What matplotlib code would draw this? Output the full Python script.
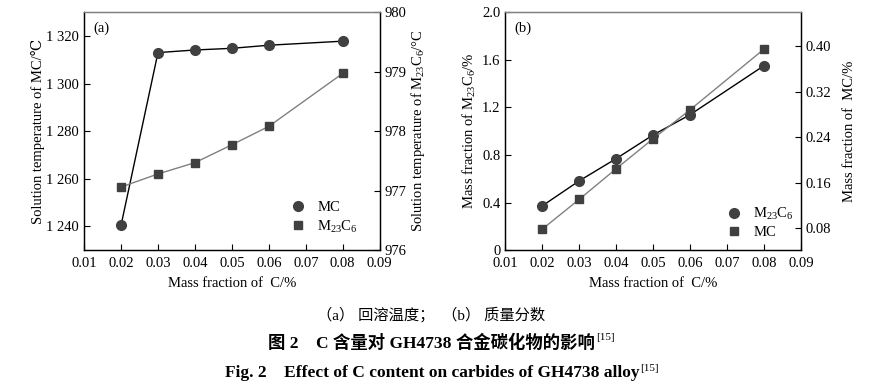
import numpy as np
import matplotlib.pyplot as plt
from matplotlib.lines import Line2D

plt.rcParams['font.family'] = ['Liberation Serif', 'DejaVu Serif']
plt.rcParams['mathtext.fontset'] = 'custom'
plt.rcParams['mathtext.rm'] = 'Liberation Serif'
plt.rcParams['mathtext.it'] = 'Liberation Serif:italic'
plt.rcParams['mathtext.default'] = 'regular'

# data
carbon = [0.02, 0.03, 0.04, 0.05, 0.06, 0.08]
mc_temp = [1240.4, 1313.0, 1314.1, 1314.8, 1316.1, 1317.8]
m23_temp = [977.06, 977.28, 977.47, 977.77, 978.08, 978.97]
m23_frac = [0.372, 0.582, 0.769, 0.968, 1.138, 1.55]
mc_frac = [0.078, 0.1305, 0.1845, 0.2373, 0.2884, 0.3953]

x_ticks = [0.01, 0.02, 0.03, 0.04, 0.05, 0.06, 0.07, 0.08, 0.09]
temp_ticks = [1240, 1260, 1280, 1300, 1320]
temp_labels = ['1 240', '1 260', '1 280', '1 300', '1 320']

mk_col = '#404040'
fs = 10.5

fig = plt.figure(figsize=(8.85, 3.92), dpi=100)


def style(ax):
    ax.tick_params(direction='in', length=4, labelsize=fs, width=0.8)
    ax.tick_params(axis='x', pad=5)
    for s in ax.spines.values():
        s.set_linewidth(0.9)
    ax.spines['top'].set_color('#808080')


# (a)
ax1 = fig.add_axes([0.095, 0.362, 0.334, 0.607])
ax1.plot(carbon, mc_temp, color='black', lw=1.0, marker='o', ms=7,
         mfc=mk_col, mec=mk_col)
ax1.set_xlim(0.01, 0.09)
ax1.set_ylim(1230, 1330)
ax1.set_xticks(x_ticks)
ax1.set_xticklabels([f'{v:.2f}' for v in x_ticks])
ax1.set_yticks(temp_ticks)
ax1.set_yticklabels(temp_labels)
ax1.set_xlabel('Mass fraction of  C/%', fontsize=fs, labelpad=5)
ax1.set_ylabel('Solution temperature of MC/℃', fontsize=fs, labelpad=1)
ax1.text(0.03, 0.96, '(a)', transform=ax1.transAxes, fontsize=fs, va='top')
ax1r = ax1.twinx()
ax1r.plot(carbon, m23_temp, color='#808080', lw=1.0, marker='s', ms=6,
          mfc=mk_col, mec=mk_col)
ax1r.set_ylim(976, 980)
ax1r.set_yticks([976, 977, 978, 979, 980])
ax1r.set_ylabel('Solution temperature of M$_{23}$C$_6$/°C', fontsize=fs, labelpad=2)
style(ax1)
style(ax1r)
h_a = [Line2D([], [], ls='none', marker='o', ms=7, mfc=mk_col, mec=mk_col),
       Line2D([], [], ls='none', marker='s', ms=6, mfc=mk_col, mec=mk_col)]
ax1r.legend(h_a, ['MC', 'M$_{23}$C$_6$'], loc='lower right', frameon=False,
            fontsize=fs, handletextpad=0.3, bbox_to_anchor=(0.97, 0.01),
            labelspacing=0.3)

# (b)
ax2 = fig.add_axes([0.571, 0.362, 0.334, 0.607])
ax2.plot(carbon, m23_frac, color='black', lw=1.0, marker='o', ms=7,
         mfc=mk_col, mec=mk_col)
ax2.set_xlim(0.01, 0.09)
ax2.set_ylim(0, 2.0)
ax2.set_xticks(x_ticks)
ax2.set_xticklabels([f'{v:.2f}' for v in x_ticks])
ax2.set_yticks([0, 0.4, 0.8, 1.2, 1.6, 2.0])
ax2.set_yticklabels(['0', '0.4', '0.8', '1.2', '1.6', '2.0'])
ax2.set_xlabel('Mass fraction of  C/%', fontsize=fs, labelpad=5)
ax2.set_ylabel('Mass fraction of M$_{23}$C$_6$/%', fontsize=fs, labelpad=3)
ax2.text(0.03, 0.96, '(b)', transform=ax2.transAxes, fontsize=fs, va='top')
ax2r = ax2.twinx()
ax2r.plot(carbon, mc_frac, color='#808080', lw=1.0, marker='s', ms=6,
          mfc=mk_col, mec=mk_col)
ax2r.set_ylim(0.041, 0.4605)
ax2r.set_yticks([0.08, 0.16, 0.24, 0.32, 0.40])
ax2r.set_yticklabels(['0.08', '0.16', '0.24', '0.32', '0.40'])
ax2r.set_ylabel('Mass fraction of  MC/%', fontsize=fs, labelpad=8)
style(ax2)
style(ax2r)
h_b = [Line2D([], [], ls='none', marker='o', ms=7, mfc=mk_col, mec=mk_col),
       Line2D([], [], ls='none', marker='s', ms=6, mfc=mk_col, mec=mk_col)]
ax2r.legend(h_b, ['M$_{23}$C$_6$', 'MC'], loc='lower right', frameon=False,
            fontsize=fs, handletextpad=0.3, bbox_to_anchor=(1.02, -0.01),
            labelspacing=0.3)

# captions
cjk = ['Liberation Serif', 'Noto Sans CJK SC']
fig.text(0.487, 0.196, '（a） 回溶温度；  （b） 质量分数', ha='center', va='center',
         fontsize=11, family=cjk)
t2 = fig.text(0.488, 0.125, '图 2    C 含量对 GH4738 合金碳化物的影响',
              ha='center', va='center', fontsize=12.5, family=cjk, weight='bold')
t3 = fig.text(0.488, 0.048, 'Fig. 2    Effect of C content on carbides of GH4738 alloy',
              ha='center', va='center', fontsize=12.5, weight='bold')
for t in (t2, t3):
    ax1.annotate('[15]', xy=(1.0, 1.0), xycoords=t, xytext=(0.5, 1),
                 textcoords='offset points', ha='left', va='top',
                 fontsize=8, annotation_clip=False)

fig.savefig('out.png', dpi=100)
